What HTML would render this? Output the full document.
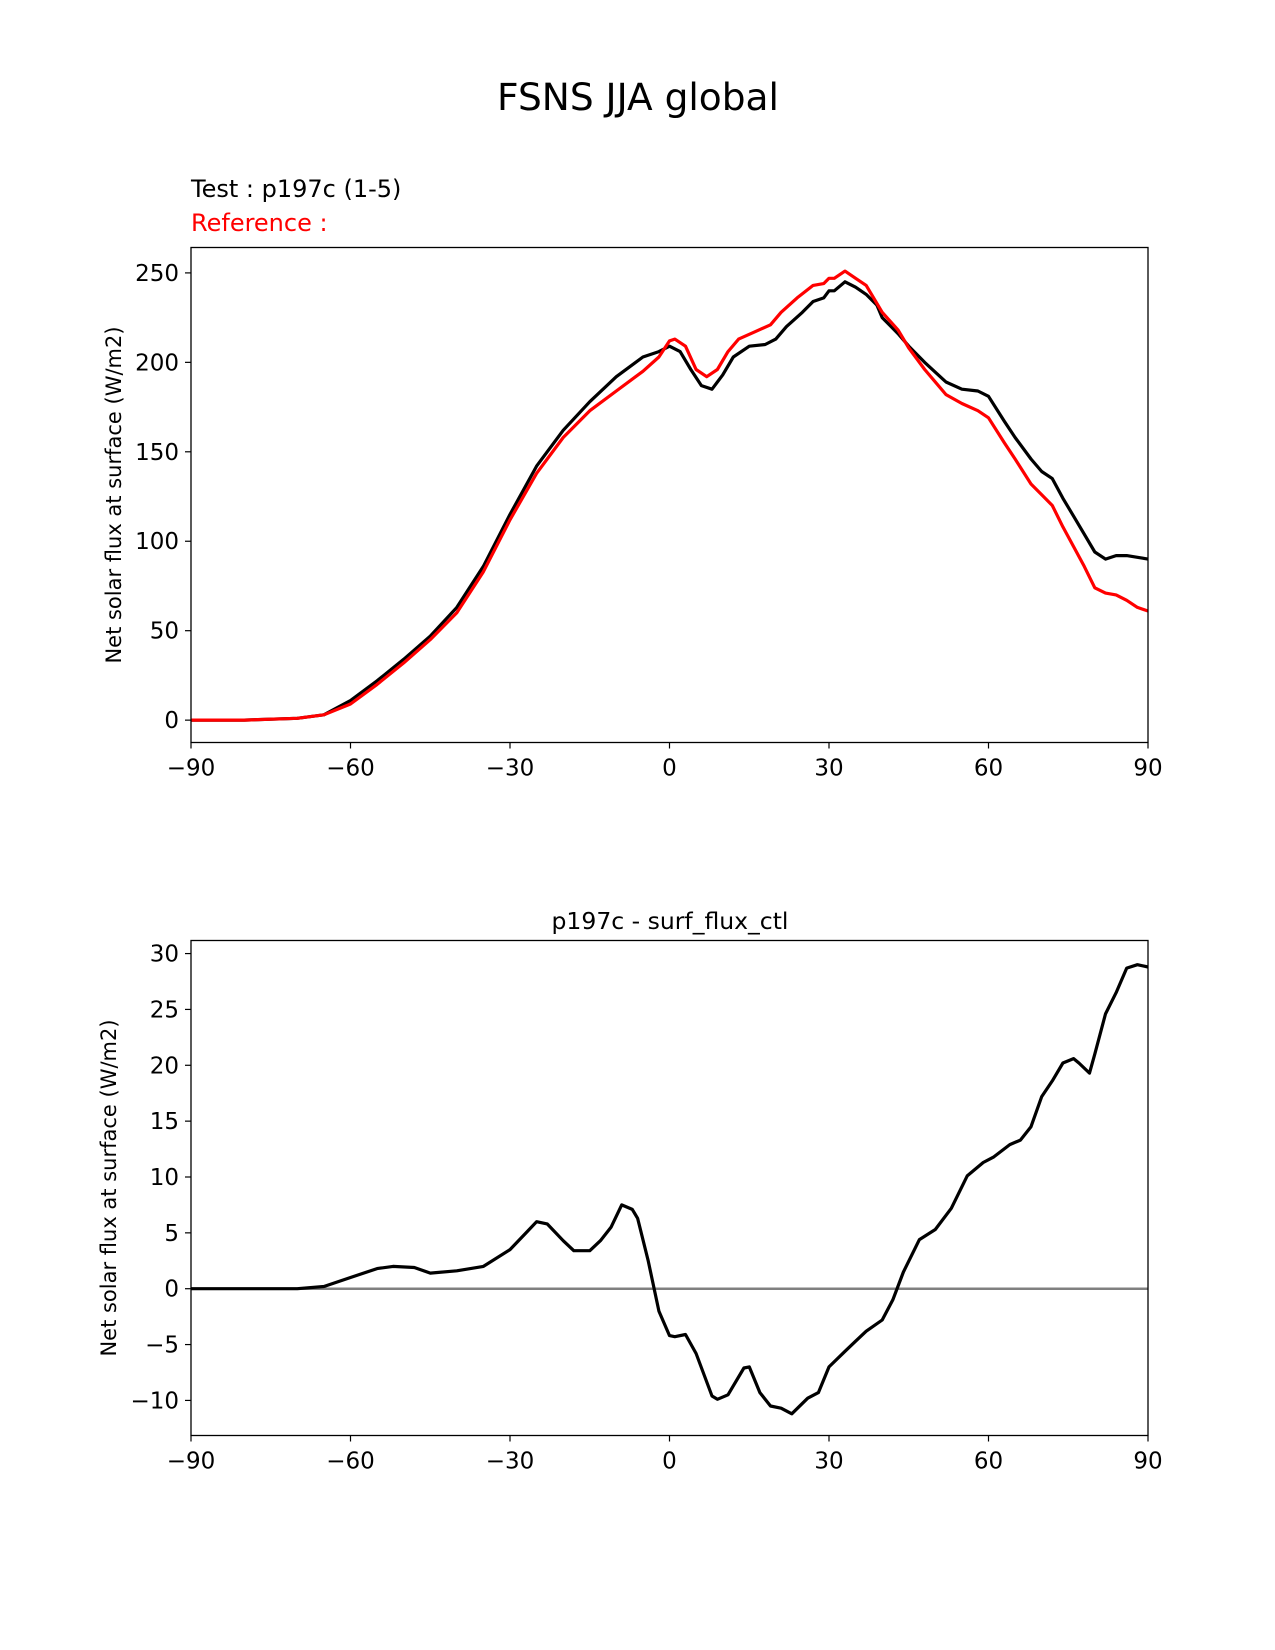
<!DOCTYPE html>
<html><head><meta charset="utf-8"><style>
html,body{margin:0;padding:0;background:#fff;}
svg{display:block;font-family:"DejaVu Sans","Liberation Sans",sans-serif;}
</style></head><body>
<svg id="fig" width="1275" height="1650" viewBox="0 0 1275 1650">
<text x="638" y="110" font-size="37.5" text-anchor="middle">FSNS JJA global</text>
<text x="191" y="197" font-size="24">Test : p197c (1-5)</text>
<text x="191" y="231" font-size="24" fill="#ff0000">Reference :</text>
<text x="670" y="929" font-size="23.5" text-anchor="middle">p197c - surf_flux_ctl</text>
<g id="top"></g>
<g id="bot"></g>
</svg>
<script>
const latT = [-90,-80,-70,-65,-60,-55,-50,-45,-40,-35,-30,-25,-20,-15,-10,-5,-2,0,2,4,6,8,10,12,15,18,20,22,25,27,29,30,31,33,35,37,39,40,43,45,48,52,55,58,60,63,65,68,70,72,74,76,78,80,82,84,86,88,90];
const testVals = [0,0,1,3,11,22,34,47,63,86,115,142,162,178,192,203,206,209,206,196,187,185,193,203,209,210,213,220,228,234,236,240,240,245,242,238,232,225,216,209,200,189,185,184,181,167,158,146,139,135,124,114,104,94,90,92,92,91,90];
const latR = [-90,-80,-70,-65,-60,-55,-50,-45,-40,-35,-30,-25,-20,-15,-10,-5,-2,0,1,3,5,7,9,11,13,16,19,21,24,27,29,30,31,33,35,37,40,43,45,48,52,55,58,60,63,65,68,70,72,74,76,78,80,82,84,86,88,90];
const refVals = [0,0,1,3,9,20,32,45,60,83,112,138,158,173,184,195,203,212,213,209,196,192,196,206,213,217,221,228,236,243,244,247,247,251,247,243,228,218,208,196,182,177,173,169,155,146,132,126,120,108,97,86,74,71,70,67,63,61];
const latD = [-90,-80,-70,-65,-60,-55,-52,-48,-45,-40,-35,-30,-27,-25,-23,-20,-18,-15,-13,-11,-9,-7,-6,-4,-2,0,1,3,5,8,9,11,14,15,17,19,21,23,26,28,30,33,35,37,40,42,44,47,50,53,56,59,61,64,66,68,70,72,74,76,77,79,80,82,84,86,88,90];
const diffVals = [0,0,0,0.2,1,1.8,2,1.9,1.4,1.6,2,3.5,5,6,5.8,4.3,3.4,3.4,4.3,5.5,7.5,7.1,6.3,2.5,-2,-4.2,-4.3,-4.1,-5.8,-9.6,-9.9,-9.5,-7.1,-7,-9.3,-10.5,-10.7,-11.2,-9.8,-9.3,-7,-5.6,-4.7,-3.8,-2.8,-1,1.5,4.4,5.3,7.2,10.1,11.3,11.8,12.9,13.3,14.5,17.2,18.6,20.2,20.6,20.2,19.3,21,24.6,26.5,28.7,29,28.8];
const xTicks = [-90,-60,-30,0,30,60,90];
const yTicksTop = [0,50,100,150,200,250];
const yTicksBot = [-10,-5,0,5,10,15,20,25,30];

const NS='http://www.w3.org/2000/svg';
function mk(parent,tag,attrs){const e=document.createElementNS(NS,tag);for(const k in attrs)e.setAttribute(k,attrs[k]);parent.appendChild(e);return e;}
const L=191,R=1148;
function xs(v){return L+(v+90)/180*(R-L);}
function panel(g,top,bot,ymin,ymax,yt,series,zero,prefix){
  const ys=v=>bot-(v-ymin)/(ymax-ymin)*(bot-top);
  if(zero){const z=mk(g,'line',{x1:L,x2:R,y1:ys(0),y2:ys(0),stroke:'#808080','stroke-width':2.5});
    
    }
  series.forEach(s=>{
    const p=mk(g,'polyline',{points:s.x.map((x,i)=>xs(x).toFixed(1)+','+ys(s.y[i]).toFixed(1)).join(' '),fill:'none',stroke:s.c,'stroke-width':3.2,'stroke-linejoin':'round'});
    
    
  });
  const f=mk(g,'rect',{x:L,y:top,width:R-L,height:bot-top,fill:'none',stroke:'#000','stroke-width':1.3});
  
  
  xTicks.forEach(t=>{
    mk(g,'line',{x1:xs(t),x2:xs(t),y1:bot,y2:bot+6,stroke:'#000','stroke-width':1.2});
    const tx=mk(g,'text',{x:xs(t),y:bot+33,'font-size':23,'text-anchor':'middle'});
    tx.textContent=(t<0?'\u2212'+(-t):t);
    
    
  });
  yt.forEach(t=>{
    mk(g,'line',{x1:L-6,x2:L,y1:ys(t),y2:ys(t),stroke:'#000','stroke-width':1.2});
    const tx=mk(g,'text',{x:L-12,y:ys(t)+8,'font-size':23,'text-anchor':'end'});
    tx.textContent=(t<0?'\u2212'+(-t):t);
    
    
  });
  const cy=(top+bot)/2;
  const yl=mk(g,'text',{x:0,y:0,'font-size':21,'text-anchor':'middle',transform:`translate(${prefix==='top'?121:116},${cy}) rotate(-90)`});
  yl.textContent='Net solar flux at surface (W/m2)';
  
  
}
panel(document.getElementById('top'),247.5,742.5,-12.5,264.2,yTicksTop,
  [{x:latT,y:testVals,c:'#000',n:'test-line'},{x:latR,y:refVals,c:'#ff0000',n:'reference-line'}],false,'top');
panel(document.getElementById('bot'),940.5,1435.5,-13.14,31.17,yTicksBot,
  [{x:latD,y:diffVals,c:'#000',n:'difference-line'}],true,'bot');
</script>
</body></html>
